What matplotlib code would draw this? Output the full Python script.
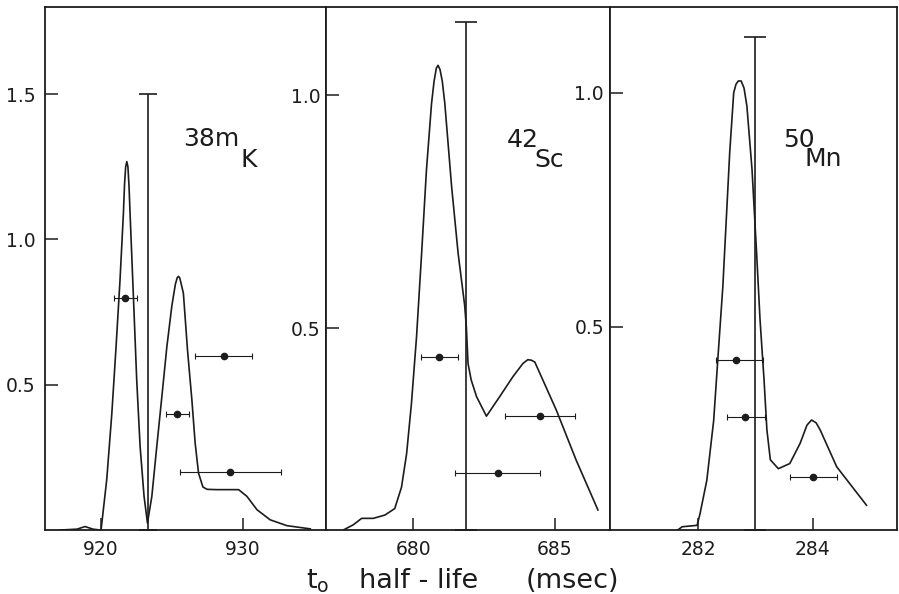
import matplotlib
matplotlib.use("Agg")
import matplotlib.pyplot as plt

INK = "#1c1c1c"

# --- 38mK panel ---
K_T = [917.1, 918.3, 918.87, 919.43, 919.93, 920.0, 920.4, 920.76, 921.06, 921.34,
       921.58, 921.66, 921.74, 921.82, 921.9, 921.98, 922.05, 922.29, 922.52, 922.76,
       923.04, 923.28, 923.59, 923.94, 924.30, 924.65, 925.0, 925.25, 925.38, 925.47,
       925.56, 925.65, 925.82, 926.11, 926.42, 926.65, 926.89, 927.2, 927.5, 928.19,
       929.72, 930.31, 931.02, 931.96, 933.14, 934.79]
K_Y = [0.0, 0.003, 0.012, 0.003, 0.0, 0.0, 0.173, 0.40, 0.63, 0.86,
       1.09, 1.19, 1.25, 1.268, 1.25, 1.18, 1.09, 0.80, 0.517, 0.288,
       0.116, 0.024, 0.116, 0.288, 0.46, 0.63, 0.77, 0.845, 0.868, 0.873,
       0.868, 0.85, 0.815, 0.62, 0.448, 0.30, 0.196, 0.148, 0.14, 0.139,
       0.139, 0.116, 0.07, 0.035, 0.015, 0.004]
K_PT_X = [921.70, 925.40, 928.70, 929.13]
K_PT_Y = [0.80, 0.40, 0.60, 0.20]
K_ERR_LO = [0.78, 0.80, 2.05, 3.54]
K_ERR_HI = [0.87, 0.85, 1.96, 3.59]
K_LIMIT = (923.35, 1.5)

# --- 42Sc panel ---
SC_T = [677.53, 677.88, 678.18, 678.59, 679.0, 679.35, 679.59, 679.77, 679.94, 680.12,
        680.30, 680.47, 680.65, 680.74, 680.82, 680.88, 680.95, 681.03, 681.12, 681.36,
        681.59, 681.82, 681.88, 681.94, 682.05, 682.24, 682.59, 683.06, 683.53, 683.88,
        684.05, 684.18, 684.3, 684.47, 685.06, 685.76, 686.53]
SC_Y = [0.068, 0.079, 0.093, 0.093, 0.10, 0.114, 0.16, 0.232, 0.339, 0.482,
        0.661, 0.839, 0.982, 1.03, 1.058, 1.064, 1.055, 1.03, 0.982, 0.804,
        0.661, 0.55, 0.504, 0.425, 0.39, 0.354, 0.312, 0.354, 0.397, 0.425,
        0.433, 0.432, 0.428, 0.405, 0.325, 0.218, 0.111]
SC_PT_X = [680.92, 684.47, 683.0]
SC_PT_Y = [0.438, 0.312, 0.19]
SC_ERR_LO = [0.65, 1.21, 1.53]
SC_ERR_HI = [0.67, 1.24, 1.47]
SC_LIMIT = (681.88, 1.157)

# --- 50Mn panel ---
MN_T = [281.63, 281.72, 281.98, 282.03, 282.15, 282.27, 282.35, 282.43, 282.49, 282.55,
        282.62, 282.66, 282.70, 282.75, 282.80, 282.85, 282.94, 283.02, 283.08, 283.15,
        283.20, 283.26, 283.40, 283.60, 283.78, 283.9, 283.98, 284.06, 284.13, 284.42,
        284.94]
MN_Y = [0.065, 0.073, 0.076, 0.10, 0.172, 0.30, 0.444, 0.586, 0.729, 0.872,
        1.0, 1.018, 1.025, 1.025, 1.01, 0.972, 0.836, 0.658, 0.515, 0.387,
        0.28, 0.216, 0.197, 0.208, 0.251, 0.29, 0.301, 0.295, 0.28, 0.201,
        0.119]
MN_PT_X = [282.66, 282.81, 284.0]
MN_PT_Y = [0.43, 0.307, 0.18]
MN_ERR_LO = [0.35, 0.31, 0.40]
MN_ERR_HI = [0.47, 0.36, 0.43]
MN_LIMIT = (282.99, 1.12)

panels = [
    dict(t=K_T, y=K_Y, px=K_PT_X, py=K_PT_Y, lo=K_ERR_LO, hi=K_ERR_HI, limit=K_LIMIT,
         xlim=(916.04, 935.9), ylim=(0.0, 1.80), xticks=[920, 930], yticks=[0.5, 1.0, 1.5],
         mass="38m", mass_xy=(925.78, 1.32), elem="K", elem_xy=(929.88, 1.249),
         pos=[0.0501, 0.1077, 0.3125, 0.8805], cap=6.3, ypad=7),
    dict(t=SC_T, y=SC_Y, px=SC_PT_X, py=SC_PT_Y, lo=SC_ERR_LO, hi=SC_ERR_HI, limit=SC_LIMIT,
         xlim=(676.92, 686.94), ylim=(0.068, 1.189), xticks=[680, 685], yticks=[0.5, 1.0],
         mass="42", mass_xy=(683.30, 0.889), elem="Sc", elem_xy=(684.30, 0.847),
         pos=[0.3626, 0.1077, 0.3154, 0.8805], cap=8, ypad=4),
    dict(t=MN_T, y=MN_Y, px=MN_PT_X, py=MN_PT_Y, lo=MN_ERR_LO, hi=MN_ERR_HI, limit=MN_LIMIT,
         xlim=(280.45, 285.48), ylim=(0.066, 1.183), xticks=[282, 284], yticks=[0.5, 1.0],
         mass="50", mass_xy=(283.48, 0.884), elem="Mn", elem_xy=(283.85, 0.843),
         pos=[0.678, 0.1077, 0.3202, 0.8805], cap=8, ypad=4),
]

fig = plt.figure(figsize=(8.99, 5.94), dpi=100)

for p in panels:
    ax = fig.add_axes(p["pos"])
    ax.plot(p["t"], p["y"], color=INK, lw=1.2, solid_joinstyle="round")
    ax.errorbar(p["px"], p["py"], xerr=[p["lo"], p["hi"]], fmt="o", ms=4.5,
                color=INK, elinewidth=0.8, capsize=2, capthick=0.8)
    lx, ltop = p["limit"]
    ax.errorbar([lx], [ltop], yerr=[[ltop - p["ylim"][0]], [0]], fmt="none",
                ecolor=INK, elinewidth=1.2, capsize=p["cap"], capthick=1.2)
    ax.text(*p["mass_xy"], p["mass"], fontsize=18, color=INK, ha="left", va="baseline")
    ax.text(*p["elem_xy"], p["elem"], fontsize=18, color=INK, ha="left", va="baseline")

    ax.set_xlim(*p["xlim"])
    ax.set_ylim(*p["ylim"])
    ax.set_xticks(p["xticks"])
    ax.set_yticks(p["yticks"])
    ax.tick_params(direction="in", length=9, width=1.1, labelsize=13.5, colors=INK)
    ax.tick_params(axis="x", pad=7)
    ax.tick_params(axis="y", pad=p["ypad"])
    for s in ax.spines.values():
        s.set_linewidth(1.3)
        s.set_color(INK)

fig.text(318 / 899, 0.0101, r"t$_\mathregular{o}$", fontsize=19.5, color=INK,
         ha="center", va="baseline")
fig.text(419 / 899, 0.0101, "half - life", fontsize=19.5, color=INK,
         ha="center", va="baseline")
fig.text(572 / 899, 0.0101, "(msec)", fontsize=19.5, color=INK,
         ha="center", va="baseline")

fig.savefig("out.png", dpi=100)
